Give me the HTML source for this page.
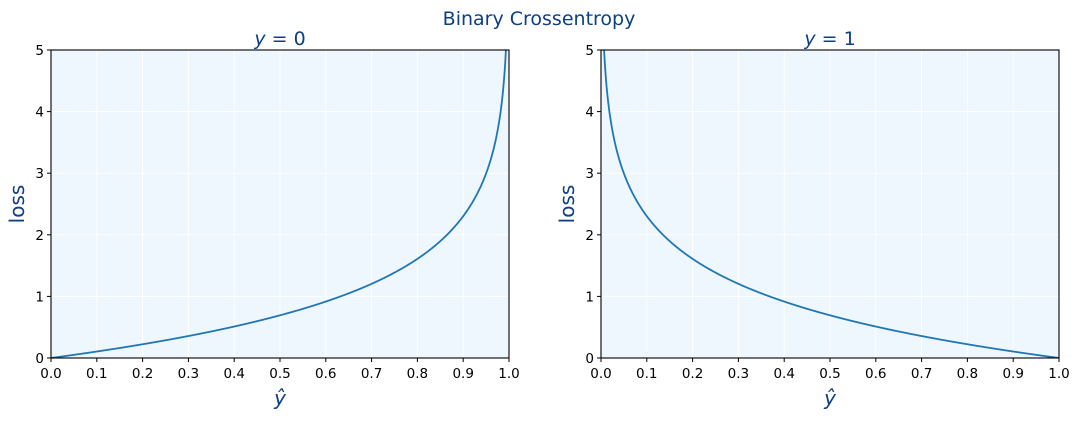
<!DOCTYPE html>
<html><head><meta charset="utf-8"><style>
body{margin:0;background:#fff;}
svg{display:block;font-family:"DejaVu Sans","Liberation Sans",sans-serif;}
</style></head><body>
<svg id="s" width="1079" height="422" xmlns="http://www.w3.org/2000/svg">
<text x="539" y="25" text-anchor="middle" font-size="19" fill="#0d3f85">Binary Crossentropy</text>
</svg>
<script>
const s=document.getElementById('s');const NS='http://www.w3.org/2000/svg';
function el(t,a,txt){const e=document.createElementNS(NS,t);for(const k in a)e.setAttribute(k,a[k]);if(txt!==undefined)e.textContent=txt;s.appendChild(e);return e;}
const T=50,B=358;
function panel(L,R,f,num){
 const W=R-L,H=B-T;
 el('rect',{x:L,y:T,width:W,height:H,fill:'#eef6fe'});
 for(let i=1;i<10;i++){const x=L+W*i/10;el('line',{x1:x,x2:x,y1:T,y2:B,stroke:'#fff','stroke-width':1});}
 for(let j=1;j<5;j++){const y=B-H*j/5;el('line',{x1:L,x2:R,y1:y,y2:y,stroke:'#fff','stroke-width':1});}
 let d='';const N=2000;
 for(let i=0;i<=N;i++){const x=i/N;let v=f(x);if(!isFinite(v)||v>5.2)continue;
  d+=(d?'L':'M')+(L+W*x).toFixed(2)+','+(B-H*v/5).toFixed(2);}
 const cp=el('clipPath',{id:'c'+L});const r=document.createElementNS(NS,'rect');r.setAttribute('x',L);r.setAttribute('y',T);r.setAttribute('width',W);r.setAttribute('height',H);cp.appendChild(r);
 el('path',{d:d,fill:'none',stroke:'#1f77b4','stroke-width':1.8,'clip-path':'url(#c'+L+')'});
 el('rect',{x:L,y:T,width:W,height:H,fill:'none',stroke:'#000','stroke-width':1.1});
 for(let i=0;i<=10;i++){const x=L+W*i/10;el('line',{x1:x,x2:x,y1:B,y2:B+4,stroke:'#000'});
  el('text',{x:x,y:B+20,'text-anchor':'middle','font-size':13.5,fill:'#000'},(i/10).toFixed(1));}
 for(let j=0;j<=5;j++){const y=B-H*j/5;el('line',{x1:L-4,x2:L,y1:y,y2:y,stroke:'#000'});
  el('text',{x:L-7,y:y+5,'text-anchor':'end','font-size':13.5,fill:'#000'},String(j));}
 const t=el('text',{x:(L+R)/2,y:45,'text-anchor':'middle','font-size':19,fill:'#0d3f85'});
 t.innerHTML='<tspan font-style="italic">y</tspan> = '+num;
 el('text',{x:(L+R)/2,y:405,'text-anchor':'middle','font-size':20,fill:'#0d3f85','font-style':'italic'},'ŷ');
 el('text',{x:0,y:0,'text-anchor':'middle','font-size':20,fill:'#0d3f85',transform:'translate('+(L-27)+','+((T+B)/2)+') rotate(-90)'},'loss');
}
panel(51,509,x=>-Math.log(1-x),'0');
panel(601,1059,x=>-Math.log(x),'1');
</script>
</body></html>
